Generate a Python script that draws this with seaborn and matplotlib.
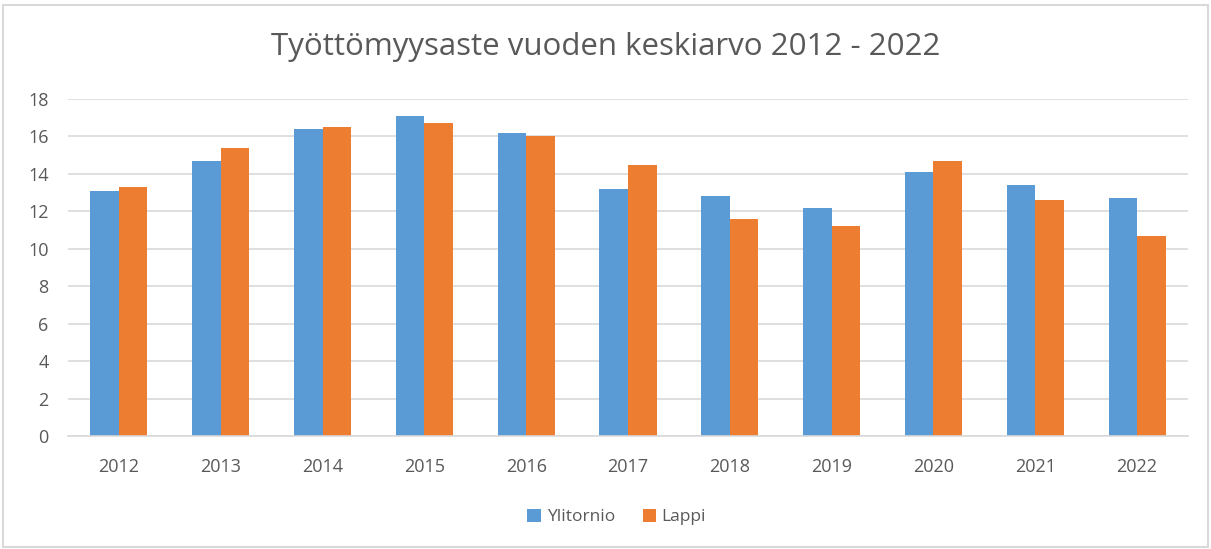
import pandas as pd
import matplotlib.pyplot as plt
import seaborn as sns
from matplotlib.patches import Rectangle

# data
years = [2012, 2013, 2014, 2015, 2016, 2017, 2018, 2019, 2020, 2021, 2022]
ylitornio = [13.1, 14.7, 16.4, 17.1, 16.2, 13.2, 12.8, 12.2, 14.1, 13.4, 12.7]
lappi = [13.3, 15.4, 16.5, 16.7, 16.0, 14.5, 11.6, 11.2, 14.7, 12.6, 10.7]
series = ['Ylitornio', 'Lappi']
colors = ['#5B9BD5', '#ED7D31']

df = pd.DataFrame({
    'vuosi': [str(y) for y in years] * 2,
    'arvo': ylitornio + lappi,
    'alue': [series[0]] * len(years) + [series[1]] * len(years),
})

sns.set_style('white')
plt.rcParams['font.family'] = ['Open Sans', 'DejaVu Sans']

fig = plt.figure(figsize=(12.11, 5.49), dpi=100)
ax = fig.add_axes([68 / 1211, 1 - 436 / 549, 1120 / 1211, 337 / 549])

sns.barplot(data=df, x='vuosi', y='arvo', hue='alue', palette=colors,
            width=0.56, gap=0, saturation=1, linewidth=0, ax=ax)

ax.set_ylim(0, 18)
ax.set_xlim(-0.5, len(years) - 0.5)
ax.set_yticks(range(0, 19, 2))
ax.yaxis.grid(True, color='#D9D9D9', linewidth=1.2)
ax.set_axisbelow(True)
for s in ['top', 'right', 'left']:
    ax.spines[s].set_visible(False)
ax.spines['bottom'].set_color('#D9D9D9')
ax.spines['bottom'].set_linewidth(1.2)
ax.tick_params(axis='x', length=0, labelsize=13, colors='#595959', pad=16)
ax.tick_params(axis='y', length=0, labelsize=13, colors='#595959', pad=14)
ax.set_xlabel('')
ax.set_ylabel('')

ax.legend(loc='center', bbox_to_anchor=(0.49, -0.24), ncol=2, frameon=False,
          fontsize=12.5, labelcolor='#595959', handlelength=0.8, handleheight=0.8,
          handletextpad=0.3, columnspacing=1.6)

fig.text(0.5, 1 - 47 / 549, 'Työttömyysaste vuoden keskiarvo 2012 - 2022',
         ha='center', va='center', fontsize=22.5, color='#595959')

fig.patches.append(Rectangle((3 / 1211, 2 / 549), 1205 / 1211, 542 / 549,
                             transform=fig.transFigure, fill=False,
                             edgecolor='#D9D9D9', linewidth=1.5))

fig.savefig('out.png', dpi=100)
